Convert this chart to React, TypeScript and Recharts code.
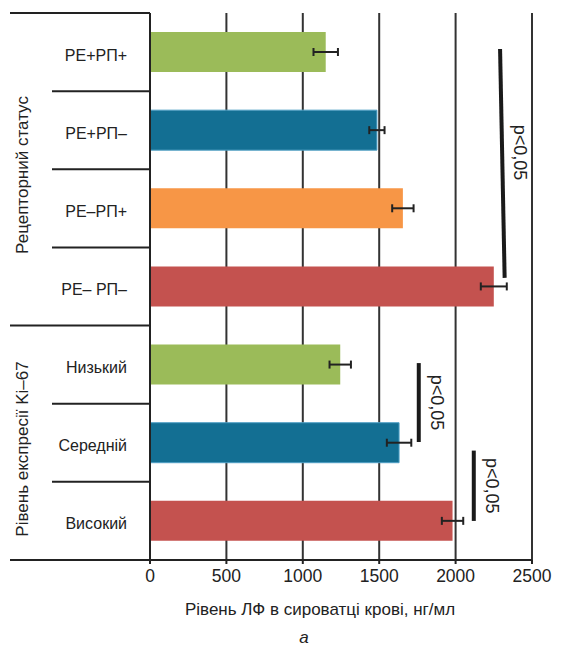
import { BarChart, Bar, XAxis, YAxis, CartesianGrid, Cell, ErrorBar, ReferenceLine } from "recharts";

const groups = ["РЕ+РП+", "РЕ+РП–", "РЕ–РП+", "РЕ– РП–", "Низький", "Середній", "Високий"];
const levels = [1150, 1485, 1655, 2250, 1245, 1630, 1980];
const errors = [80, 50, 70, 85, 70, 80, 70];
const barColors = ["#9bbb59", "#136f93", "#f79646", "#c4524f", "#9bbb59", "#136f93", "#c4524f"];
const xTicks = [0, 500, 1000, 1500, 2000, 2500];

// significance brackets: x in ng/ml, y in band units (0 = top of first row)
const sigX1 = [2291, 1759, 2119];
const sigX2 = [2321, 1759, 2119];
const sigY1 = [0.46, 4.48, 5.6];
const sigY2 = [3.39, 5.49, 6.5];
const sigText = "p<0,05";

const data = groups.map((g, i) => ({ name: g, value: levels[i], err: errors[i] }));

const W = 564;
const H = 646;
const TOP = 13;
const BOTTOM = 560;
const PLOT_LEFT = 150;
const BAND = (BOTTOM - TOP) / groups.length;
const FONT = "'Liberation Sans', Arial, sans-serif";
const INK = "#222";

function GroupTick(props: any) {
  const { y, index, payload } = props;
  const top = y - BAND / 2;
  const fullTop = index === 0 || index === 4;
  return (
    <g>
      <line x1={fullTop ? 10 : 52} x2={PLOT_LEFT} y1={top} y2={top} stroke={INK} strokeWidth={2} />
      {index === groups.length - 1 && (
        <line x1={10} x2={PLOT_LEFT} y1={y + BAND / 2} y2={y + BAND / 2} stroke={INK} strokeWidth={2} />
      )}
      <text x={127} y={y + 8.5} textAnchor="end" fontSize={16} fill={INK} fontFamily={FONT}>
        {payload.value}
      </text>
    </g>
  );
}

function sigLabel(i: number) {
  return (props: any) => {
    const vb = props.viewBox || {};
    const cx = vb.x + vb.width / 2 + 12;
    const cy = vb.y + vb.height / 2 + (i === 0 ? -11 : 0);
    return (
      <text
        x={cx}
        y={cy}
        transform={`rotate(90, ${cx}, ${cy})`}
        textAnchor="middle"
        fontSize={18}
        fill={INK}
        fontFamily={FONT}
      >
        {sigText}
      </text>
    );
  };
}

export default function App() {
  return (
    <div style={{ position: "absolute", left: 0, top: 0, width: W, height: H, background: "#fff" }}>
      <BarChart
        width={W}
        height={H}
        data={data}
        layout="vertical"
        margin={{ top: TOP, right: 32, left: 10, bottom: 56 }}
      >
        <CartesianGrid horizontal={false} stroke="#333" strokeWidth={2} />
        <XAxis
          type="number"
          domain={[0, 2500]}
          ticks={xTicks}
          height={30}
          tickSize={4}
          tickMargin={6}
          axisLine={{ stroke: INK, strokeWidth: 2 }}
          tickLine={{ stroke: INK, strokeWidth: 2 }}
          tick={{ fontSize: 17.5, fill: INK, fontFamily: FONT }}
        />
        <YAxis
          type="category"
          dataKey="name"
          width={140}
          axisLine={{ stroke: INK, strokeWidth: 2 }}
          tickLine={false}
          interval={0}
          tick={(p: any) => <GroupTick {...p} />}
        />
        <YAxis yAxisId="n" type="number" dataKey="value" domain={[0, 7]} hide allowDataOverflow />
        <Bar dataKey="value" barSize={40} isAnimationActive={false}>
          {data.map((d, i) => (
            <Cell key={d.name} fill={barColors[i]} stroke={i === 1 || i === 5 ? "#4f9fc4" : "none"} strokeWidth={1} />
          ))}
          <ErrorBar dataKey="err" direction="x" width={4} stroke={INK} strokeWidth={2} isAnimationActive={false} />
        </Bar>
        {sigX1.map((x, i) => (
          <ReferenceLine
            key={i}
            yAxisId="n"
            ifOverflow="visible"
            segment={[
              { x, y: sigY1[i] },
              { x: sigX2[i], y: sigY2[i] },
            ]}
            stroke="#1a1a1a"
            strokeWidth={4}
            label={sigLabel(i)}
          />
        ))}
        <text x={28} y={175} transform="rotate(-90, 28, 175)" textAnchor="middle" fontSize={17} fill={INK} fontFamily={FONT}>
          Рецепторний статус
        </text>
        <text x={28} y={449} transform="rotate(-90, 28, 449)" textAnchor="middle" fontSize={17} fill={INK} fontFamily={FONT}>
          Рівень експресії Ki–67
        </text>
        <text x={320} y={615} textAnchor="middle" fontSize={17} fill={INK} fontFamily={FONT}>
          Рівень ЛФ в сироватці крові, нг/мл
        </text>
        <text x={304} y={643} textAnchor="middle" fontSize={17} fontStyle="italic" fill={INK} fontFamily={FONT}>
          а
        </text>
      </BarChart>
    </div>
  );
}
